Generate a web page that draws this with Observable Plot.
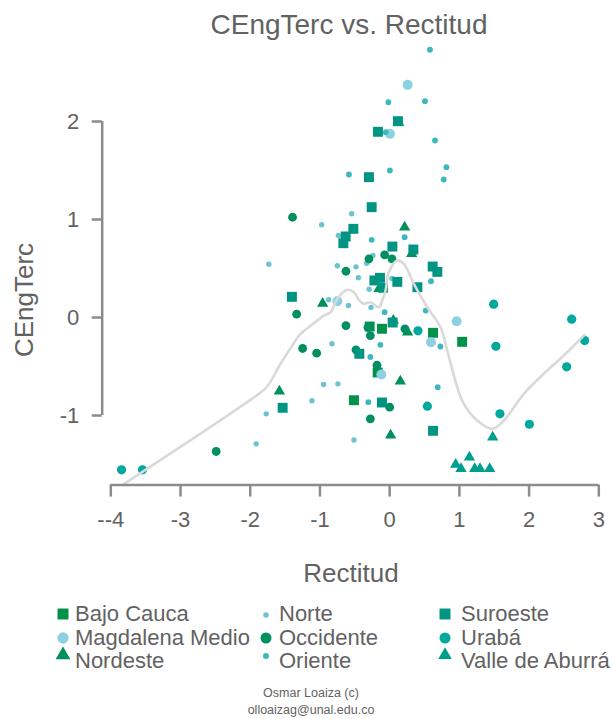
<!DOCTYPE html>
<html><head><meta charset="utf-8">
<script src="https://cdn.jsdelivr.net/npm/d3@7"></script>
<script src="https://cdn.jsdelivr.net/npm/@observablehq/plot@0.6"></script>
<style>
body{margin:0;background:#fff;}
#wrap{position:relative;width:613px;height:719px;overflow:hidden;font-family:"Liberation Sans",Arial,sans-serif;color:#626262;}
.abs{position:absolute;white-space:nowrap;}
</style></head><body><div id="wrap"></div>
<script>
// ---------------- data ----------------
const regionNames = ["Bajo Cauca","Magdalena Medio","Nordeste","Norte","Occidente","Oriente","Suroeste","Urabá","Valle de Aburrá"];

const bajoCauca = [[-0.287,-0.092],[-0.110,-0.115],[0.622,-0.156],[-0.172,-0.561],[-0.512,-0.844],[1.040,-0.248]];
const magdalenaMedio = [[0.258,2.374],[0.004,1.874],[-0.750,0.166],[0.961,-0.038],[0.593,-0.252],[-0.119,-0.582]];
const nordeste = [[0.129,1.990],[0.215,0.921],[0.316,0.650],[-0.153,0.293],[-0.961,0.143],[0.053,-0.031],[0.258,-0.150],[0.153,-0.650],[-1.582,-0.752],[0.014,-1.201]];
const norte = [[-0.545,1.058],[-0.975,0.946],[-0.736,0.837],[-0.240,0.633],[-0.330,0.554],[-0.750,0.528],[-0.483,0.517],[-0.449,0.405],[-1.733,0.544],[0.033,0.398],[-0.294,0.289],[-0.875,0.181],[-0.592,0.122],[-0.268,0.102],[-0.828,-0.268],[-0.947,-0.684],[-0.742,-0.677],[-1.115,-0.850],[-0.512,-1.250],[-1.771,-0.983],[-1.915,-1.289]];
const occidente = [[-1.393,1.023],[-0.072,0.640],[0.033,0.599],[-0.297,0.599],[-0.627,0.472],[-1.334,0.034],[-0.627,-0.082],[-0.311,-0.102],[0.219,-0.115],[-0.277,-0.184],[-1.248,-0.316],[-1.047,-0.364],[-0.483,-0.330],[-0.182,-0.487],[0.000,-0.915],[-0.277,-1.034],[-2.488,-1.367]];
const oriente = [[0.578,2.732],[-0.019,2.197],[0.507,2.207],[-0.057,1.891],[0.650,1.806],[0.814,1.534],[0.775,1.408],[0.004,1.500],[-0.584,1.459],[0.215,0.819],[-0.258,0.793],[0.593,0.370],[0.517,0.071],[-0.072,0.054],[0.728,-0.296],[0.689,-0.711],[-0.133,-0.279],[-0.306,-0.864],[-0.277,-0.403]];
const suroeste = [[0.119,2.003],[-0.168,1.895],[-0.297,1.432],[-0.258,1.126],[-0.521,0.905],[-0.631,0.827],[-0.664,0.758],[0.039,0.724],[0.340,0.694],[0.617,0.520],[0.684,0.466],[-0.139,0.405],[-0.219,0.378],[0.110,0.364],[0.398,0.309],[-0.096,0.303],[-1.402,0.211],[0.043,-0.051],[-0.435,-0.370],[-0.110,-0.867],[0.622,-1.156],[-1.535,-0.921]];
const uraba = [[0.406,-0.136],[1.492,0.136],[2.611,-0.017],[2.797,-0.235],[1.524,-0.293],[2.539,-0.503],[0.541,-0.905],[1.582,-0.983],[2.004,-1.089],[-3.846,-1.554],[-3.545,-1.554]];
const valleDeAburra = [[1.478,-1.221],[1.144,-1.426],[0.947,-1.500],[1.023,-1.544],[1.220,-1.544],[1.296,-1.544],[1.435,-1.544]];

// smooth (loess) curve
const smoothX = [-3.813,-1.877,-1.756,-1.566,-1.470,-1.279,-1.183,-0.944,-0.848,-0.752,-0.609,-0.514,-0.442,-0.371,-0.275,-0.155,-0.107,-0.059,-0.012,0.108,0.203,0.347,0.539,0.730,0.826,0.969,1.064,1.256,1.471,1.638,1.925,2.211,2.498,2.795];
const smoothY = [-1.700,-0.779,-0.704,-0.472,-0.367,-0.166,-0.112,0.020,0.054,0.191,0.283,0.258,0.181,0.140,0.156,0.105,0.173,0.276,0.462,0.582,0.548,0.344,0.105,-0.099,-0.337,-0.711,-0.881,-1.051,-1.136,-1.051,-0.779,-0.574,-0.388,-0.177];

const xTicks = [-4,-3,-2,-1,0,1,2,3];
const xTickLabels = ["--4","-3","-2","-1","0","1","2","3"];
const yTicks = [-1,0,1,2];
const yTickLabels = ["-1","0","1","2"];

const titleText = "CEngTerc vs. Rectitud";
const xLabel = "Rectitud";
const yLabel = "CEngTerc";
const captionLines = ["Osmar Loaiza (c)","olloaizag@unal.edu.co"];

// ---------------- styles ----------------
const seriesData = [bajoCauca, magdalenaMedio, nordeste, norte, occidente, oriente, suroeste, uraba, valleDeAburra];
const styles = [
  {color:"#00924a", symbol:"square",   r:5.6, lsize:120, ldy:0},
  {color:"#8dd0e2", symbol:"circle",   r:5.0, lsize:100, ldy:0},
  {color:"#00905a", symbol:"triangle", r:4.2, lsize:95,  ldy:-6},
  {color:"#6cc4d1", symbol:"circle",   r:2.7, lsize:24,  ldy:1},
  {color:"#008f62", symbol:"circle",   r:4.4, lsize:95,  ldy:0},
  {color:"#3fb7be", symbol:"circle",   r:2.9, lsize:28,  ldy:-5},
  {color:"#009482", symbol:"square",   r:5.6, lsize:120, ldy:0},
  {color:"#00a89d", symbol:"circle",   r:4.6, lsize:95,  ldy:0},
  {color:"#009e8d", symbol:"triangle", r:4.2, lsize:80,  ldy:-6}
];

const W = 613, H = 600;
const xDomain = [-4, 3], yDomain = [-1.71, 2.85];
const textColor = "#626262";

const wrap = document.getElementById("wrap");

const marks = [];
seriesData.forEach((arr, i) => {
  const s = styles[i];
  marks.push(Plot.dot(arr, {x: d => d[0], y: d => d[1], symbol: s.symbol, r: s.r, fill: s.color, stroke: "none"}));
});
marks.push(Plot.line(smoothX.map((x, i) => [x, smoothY[i]]), {x: d => d[0], y: d => d[1], stroke: "#d9d9d9", strokeWidth: 2.6, curve: "catmull-rom"}));
// range-frame axes
marks.push(Plot.ruleY([yDomain[0]], {x1: xTicks[0], x2: xTicks[xTicks.length - 1], stroke: "#8c8c8c", strokeWidth: 2.5}));
marks.push(Plot.ruleX([xTicks[0]], {y1: yTicks[0], y2: yTicks[yTicks.length - 1], dx: -8.6, stroke: "#8c8c8c", strokeWidth: 2.5}));
marks.push(Plot.axisX(xTicks, {anchor: "bottom", tickSize: 12, tickPadding: 14, stroke: "#8c8c8c", strokeWidth: 2.5, fill: textColor, fontSize: 22, label: null, tickFormat: d => xTickLabels[xTicks.indexOf(d)]}));
marks.push(Plot.axisY(yTicks, {anchor: "left", tickSize: 10, tickPadding: 13, dx: -8.6, stroke: "#8c8c8c", strokeWidth: 2.5, fill: textColor, fontSize: 22, label: null, tickFormat: d => yTickLabels[yTicks.indexOf(d)]}));

const chart = Plot.plot({
  width: W, height: H,
  marginLeft: 110.3, marginRight: 14.7, marginTop: 37.7, marginBottom: H - 484.6,
  x: {domain: xDomain, axis: null},
  y: {domain: yDomain, axis: null},
  style: {fontFamily: '"Liberation Sans", Arial, sans-serif', background: "transparent", overflow: "visible"},
  marks
});
chart.style.position = "absolute";
chart.style.left = "0px";
chart.style.top = "0px";
wrap.appendChild(chart);

function addText(txt, opts) {
  const d = document.createElement("div");
  d.className = "abs";
  d.textContent = txt;
  Object.assign(d.style, opts);
  wrap.appendChild(d);
  return d;
}
// title
addText(titleText, {left: "349px", top: (35 - 0.8465 * 28) + "px", fontSize: "28px", lineHeight: "28px", transform: "translateX(-50%)"});
// x label
addText(xLabel, {left: "351px", top: (582 - 0.8465 * 26) + "px", fontSize: "26px", lineHeight: "26px", transform: "translateX(-50%)"});
// y label (rotated)
addText(yLabel, {left: "24px", top: "300px", fontSize: "26px", lineHeight: "26px", transform: "translate(-50%,-50%) rotate(-90deg)"});

// legend
const colSym = [63, 266, 445], colTxt = [75, 279, 461], rowY = [614, 637.5, 661];
const symType = {square: d3.symbolSquare, circle: d3.symbolCircle, triangle: d3.symbolTriangle};
regionNames.forEach((name, i) => {
  const c = Math.floor(i / 3), r = i % 3, s = styles[i];
  const svg = d3.create("svg").attr("width", 24).attr("height", 24)
    .style("position", "absolute").style("left", (colSym[c] - 12) + "px").style("top", (rowY[r] + s.ldy - 12) + "px");
  svg.append("path").attr("transform", "translate(12,12)").attr("d", d3.symbol().type(symType[s.symbol]).size(s.lsize)()).attr("fill", s.color);
  wrap.appendChild(svg.node());
  addText(name, {left: colTxt[c] + "px", top: (rowY[r] - 11) + "px", fontSize: "22px", lineHeight: "22px"});
});

// caption
addText(captionLines[0], {left: "311px", top: (698 - 0.8465 * 12.5) + "px", fontSize: "12.5px", lineHeight: "12.5px", transform: "translateX(-50%)"});
addText(captionLines[1], {left: "311px", top: (715 - 0.8465 * 12.5) + "px", fontSize: "12.5px", lineHeight: "12.5px", transform: "translateX(-50%)"});
</script>
</body></html>
